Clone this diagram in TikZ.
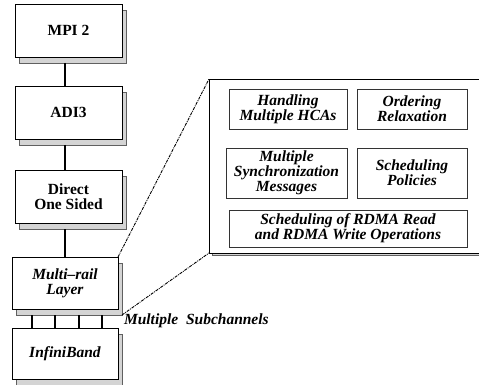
\documentclass[tikz,border=0pt]{standalone}
\usepackage{fontspec}
\setmainfont{Liberation Serif}
\usetikzlibrary{shadows}
\definecolor{shadefill}{HTML}{D4D4D4}
\definecolor{shadeline}{HTML}{606060}
\begin{document}
\begin{tikzpicture}[x=1pt,y=-1pt,
  every node/.style={inner sep=0pt, outer sep=0pt},
  txt/.style={font=\fontsize{15.5}{15}\selectfont\bfseries, align=center},
  itxt/.style={font=\fontsize{15.5}{15}\selectfont\bfseries\itshape, align=center},
  layer/.style={draw=black, line width=0.9pt, fill=white, minimum width=107pt, minimum height=53pt,
    copy shadow={shadow xshift=4pt, shadow yshift=-6pt, fill=shadefill, draw=shadeline, line width=0.7pt}},
  inner/.style={draw=black!80, line width=0.8pt, fill=white},
  link/.style={draw=black, line width=1.4pt},
  zoomline/.style={draw=black, line width=0.9pt, densely dashdotted}
]
\path[use as bounding box, clip] (0,0) rectangle (479,385);
\fill[white] (0,0) rectangle (479,385);

% panel
\node[draw=black, line width=0.9pt, fill=white, minimum width=290pt, minimum height=174pt,
  copy shadow={shadow xshift=3pt, shadow yshift=-2.5pt, fill=shadefill, draw=shadeline, line width=0.7pt}]
  (panel) at (354,166) {};

% inner boxes
\node[inner, itxt, minimum width=118pt, minimum height=40pt] (hca) at (288,109) {Handling\\Multiple HCAs};
\node[inner, itxt, minimum width=110pt, minimum height=40pt] (order) at (412,109) {Ordering\\Relaxation};
\node[inner, itxt, minimum width=121pt, minimum height=50pt] (sync) at (286.5,173) {Multiple\\Synchronization\\Messages};
\node[inner, itxt, minimum width=110pt, minimum height=50pt] (policy) at (412,173) {Scheduling\\Policies};
\node[inner, itxt, minimum width=238pt, minimum height=37pt] (rdma) at (348,228.5) {Scheduling of RDMA Read\\and RDMA Write Operations};

% layers
\node[layer, txt] (mpi) at (68.5,30.5) {MPI 2};
\node[layer, txt] (adi) at (68.5,112.5) {ADI3};
\node[layer, txt] (dos) at (68.5,196.5) {Direct\\One Sided};
\node[layer, itxt, minimum width=106pt, minimum height=52pt] (mrail) at (65,283) {Multi–rail\\Layer};
\node[layer, itxt, minimum width=106pt, minimum height=51pt] (ib) at (65,353.5) {InfiniBand};

% connectors
\draw[link] ([xshift=-3.5pt,yshift=-6pt]mpi.south) -- ([xshift=-3.5pt]adi.north);
\draw[link] ([xshift=-3.5pt,yshift=-6pt]adi.south) -- ([xshift=-3.5pt]dos.north);
\draw[link] ([xshift=-3.5pt,yshift=-6pt]dos.south) -- (mrail.north);
\foreach \dx in {20,43,67,90}
  \draw[link] ([xshift=\dx pt, yshift=-6pt]mrail.south west) -- ([xshift=\dx pt]ib.north west);

% zoom lines
\draw[zoomline] (mrail.north east) -- (panel.north west);
\draw[zoomline] ([xshift=4pt,yshift=-6pt]mrail.south east) -- (panel.south west);

\node[itxt, anchor=west] (sub) at (124,321) {Multiple\ \ Subchannels};
\end{tikzpicture}
\end{document}
